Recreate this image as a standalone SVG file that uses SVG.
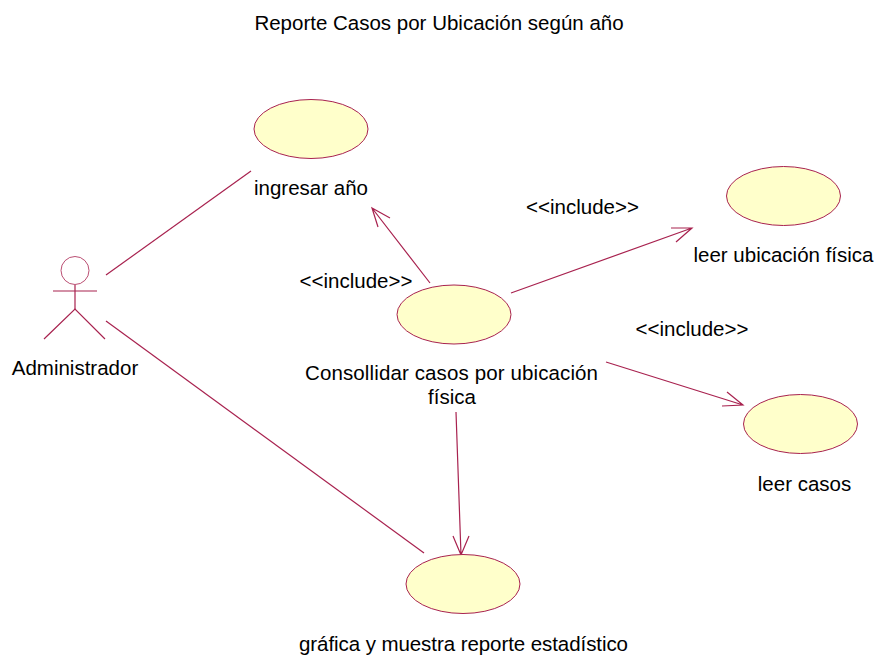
<svg xmlns="http://www.w3.org/2000/svg" width="876" height="655" viewBox="0 0 876 655">
<style>
.u{fill:#ffffcb;stroke:#a8224f;stroke-width:1}
.l{fill:none;stroke:#a8224f;stroke-width:1.2}
text{font-family:"Liberation Sans",Arial,sans-serif;font-size:20.500px;fill:#000;text-anchor:middle}
</style>
<rect width="876" height="655" fill="#fff"/>
<text id="title" x="439" y="30">Reporte Casos por Ubicación según año</text>
<g id="connectors" class="l">
<path d="M106 275L251 171"/>
<path d="M106 321L424 553"/>
<path d="M430 283L372 208M390 218L372 208L378 227"/>
<path d="M511 293L692 228M671 228L692 228L676 242"/>
<path d="M606 362L743 405M727 392L743 405L722 406"/>
<path d="M456 412L461 555M453 536L461 555L469 536"/>
</g>
<g id="actor-administrador">
<circle cx="75" cy="270.500" r="14" fill="#fff" stroke="#a8224f" stroke-width="0.8"/>
<path class="l" d="M75 285V309M53 291H97" />
<path class="l" d="M44 339L75 309L105 339"/>
<text x="75" y="375">Administrador</text>
</g>
<g id="uc-ingresar"><ellipse class="u" cx="311" cy="129" rx="57" ry="29.500"/><text x="311" y="195">ingresar año</text></g>
<g id="uc-leer-ubicacion"><ellipse class="u" cx="783.500" cy="196" rx="57" ry="29.500"/><text x="783.500" y="262">leer ubicación física</text></g>
<g id="uc-consolidar"><ellipse class="u" cx="454" cy="314.500" rx="57" ry="29.500"/><text x="451.500" y="380" textLength="293">Consollidar casos por ubicación</text><text x="452" y="404">física</text></g>
<g id="uc-leer-casos"><ellipse class="u" cx="800.500" cy="424" rx="57" ry="29.500"/><text x="804.500" y="491">leer casos</text></g>
<g id="uc-grafica"><ellipse class="u" cx="463" cy="584" rx="57" ry="29.500"/><text x="463.500" y="651" textLength="329">gráfica y muestra reporte estadístico</text></g>
<text x="582.500" y="214">&lt;&lt;include&gt;&gt;</text>
<text x="356" y="288">&lt;&lt;include&gt;&gt;</text>
<text x="692" y="336">&lt;&lt;include&gt;&gt;</text>
</svg>
